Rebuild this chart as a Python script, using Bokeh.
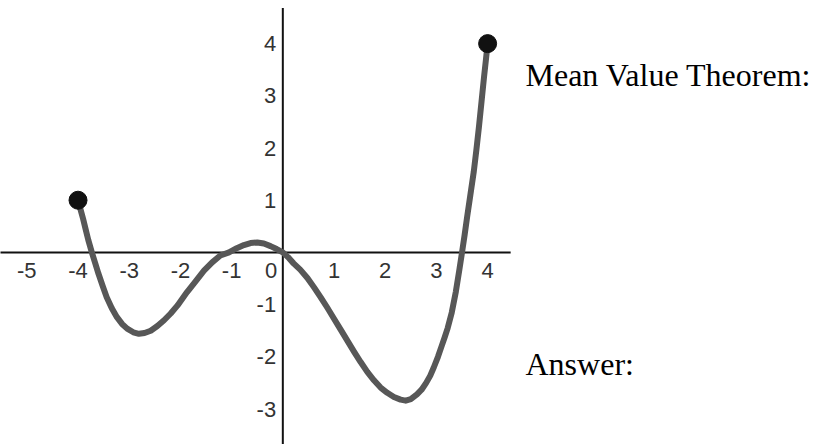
from bokeh.plotting import figure
from bokeh.models import Range1d, ColumnDataSource
from bokeh.core.properties import value
from bokeh.embed import file_html
from bokeh.resources import INLINE

# ---- data ----
curve_x = [-4.00, -3.95, -3.90, -3.85, -3.80, -3.73, -3.66, -3.60, -3.52, -3.44,
           -3.34, -3.24, -3.14, -3.04, -2.92, -2.81, -2.70, -2.58, -2.45, -2.32,
           -2.19, -2.06, -1.87, -1.70, -1.54, -1.38, -1.22, -1.05, -0.90, -0.76,
           -0.63, -0.50, -0.37, -0.24, -0.12, 0.00, 0.10, 0.21, 0.34, 0.48,
           0.61, 0.74, 0.87, 1.00, 1.13, 1.26, 1.39, 1.52, 1.65, 1.78,
           1.91, 2.04, 2.17, 2.30, 2.40, 2.50, 2.62, 2.71, 2.80, 2.88,
           2.95, 3.03, 3.10, 3.16, 3.22, 3.30, 3.38, 3.45, 3.50, 3.55,
           3.60, 3.66, 3.73, 3.78, 3.83, 3.88, 3.93, 3.97, 4.00]
curve_y = [1.00, 0.82, 0.64, 0.44, 0.24, 0.00, -0.22, -0.41, -0.64, -0.86,
           -1.07, -1.24, -1.37, -1.46, -1.53, -1.56, -1.545, -1.50, -1.41, -1.30,
           -1.17, -1.02, -0.76, -0.55, -0.35, -0.19, -0.06, 0.00, 0.08, 0.14,
           0.18, 0.19, 0.17, 0.12, 0.065, 0.00, -0.09, -0.21, -0.33, -0.49,
           -0.67, -0.86, -1.06, -1.27, -1.48, -1.69, -1.90, -2.10, -2.29, -2.45,
           -2.59, -2.69, -2.77, -2.82, -2.84, -2.81, -2.72, -2.63, -2.50, -2.36,
           -2.20, -2.00, -1.80, -1.63, -1.45, -1.15, -0.75, -0.32, 0.00, 0.33,
           0.68, 1.08, 1.55, 1.96, 2.40, 2.88, 3.36, 3.72, 4.00]
endpoint_x = [-4, 4]
endpoint_y = [1, 4]
x_ticks = [-5, -4, -3, -2, -1, 0, 1, 2, 3, 4]
x_tick_labels = ["-5", "-4", "-3", "-2", "-1", "0", "1", "2", "3", "4"]
y_ticks = [-3, -2, -1, 1, 2, 3, 4]
y_tick_labels = ["-3", "-2", "-1", "1", "2", "3", "4"]
x_axis_extent = [-5.6, 4.45]
y_axis_extent = [-3.8, 4.68]
notes = ["Mean Value Theorem:", "Answer:"]

# ---- figure ----
p = figure(width=817, height=444, output_backend="svg", toolbar_location=None,
           x_range=Range1d(-5.514, 10.443), y_range=Range1d(-3.680, 4.826),
           x_axis_type=None, y_axis_type=None, min_border=0)
p.grid.visible = False
p.outline_line_color = None
p.background_fill_color = "white"
p.border_fill_color = "white"

# axes lines
p.line(x=x_axis_extent, y=[0, 0], line_color="#111111", line_width=2)
p.line(x=[0, 0], y=y_axis_extent, line_color="#111111", line_width=2)

# curve
p.line(x=curve_x, y=curve_y, line_color="#575757", line_width=6,
       line_join="round", line_cap="round")
p.scatter(x=endpoint_x, y=endpoint_y, size=18, fill_color="#111111",
          line_color="#111111")

# tick labels
lab_font = value("Liberation Sans")
xl_x = [t - 0.23 if t == 0 else t for t in x_ticks]
xsrc = ColumnDataSource(dict(x=xl_x, y=[-0.35] * len(x_ticks), t=x_tick_labels))
p.text(x="x", y="y", text="t", source=xsrc, text_font=lab_font,
       text_font_size="22px", text_color="#333333", text_align="center",
       text_baseline="middle")
ysrc = ColumnDataSource(dict(x=[-0.13] * len(y_ticks), y=y_ticks, t=y_tick_labels))
p.text(x="x", y="y", text="t", source=ysrc, text_font=lab_font,
       text_font_size="22px", text_color="#333333", text_align="right",
       text_baseline="middle")

# notes
nsrc = ColumnDataSource(dict(x=[4.74, 4.74], y=[3.39, -2.13], t=notes))
p.text(x="x", y="y", text="t", source=nsrc, text_font=value("Liberation Serif"),
       text_font_size="32px", text_color="#000000", text_align="left",
       text_baseline="alphabetic")

open("out.html", "w").write(file_html(p, INLINE))
